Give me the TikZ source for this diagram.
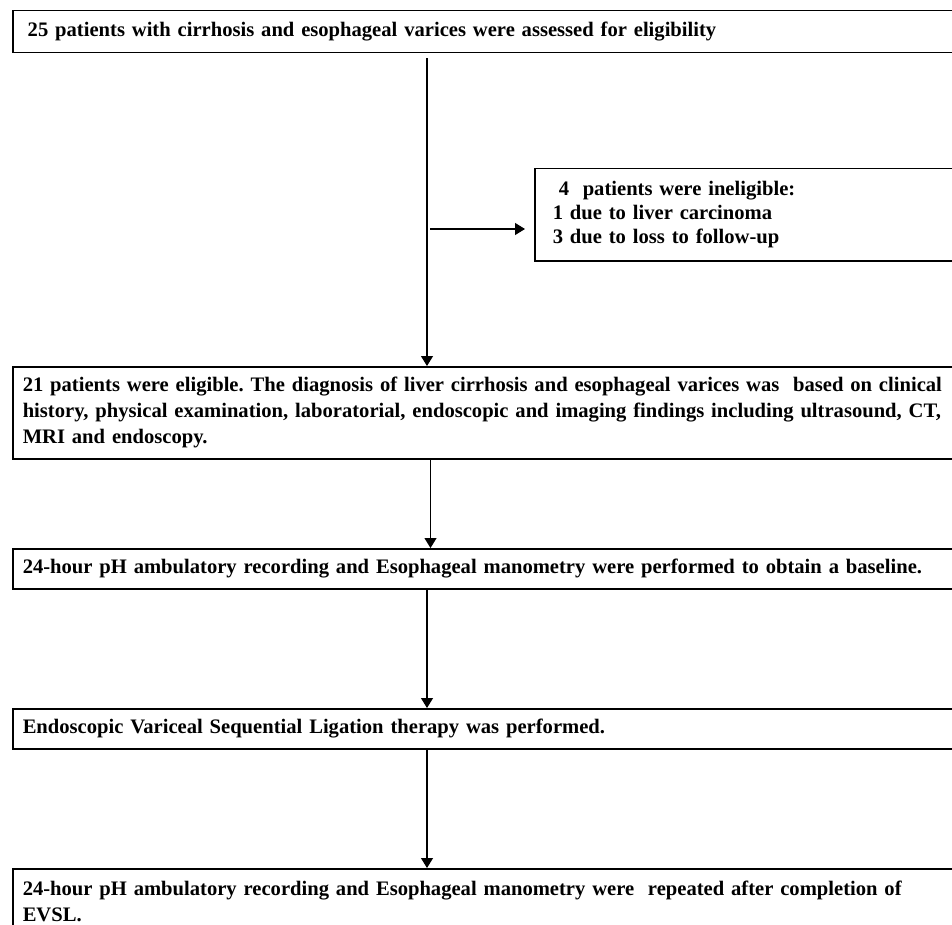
\documentclass[tikz,border=0pt]{standalone}
\usepackage{fontspec}
\setmainfont{Liberation Serif}
\usetikzlibrary{arrows.meta}
\frenchspacing

\begin{document}
\begin{tikzpicture}[x=0.5pt,y=-0.5pt,
   fleche/.style={-{Triangle[length=5pt,width=6pt]},line width=0.6pt},
   etape/.style={draw,rectangle,line width=0.75pt,anchor=north west,align=left,
     text width=480pt,inner xsep=5pt,font=\bfseries\fontsize{10.3}{13}\selectfont}]

  \useasboundingbox (0,0) rectangle (952,925);
  \clip (0,0) rectangle (952,925);

  \node[etape,inner xsep=7.5pt,minimum height=21pt] (inclus) at (12,10)
    {25 patients with cirrhosis and esophageal varices were assessed for eligibility};
  \node[etape,text width=200pt,inner xsep=9pt,minimum height=46pt,
        font=\bfseries\fontsize{10.3}{12}\selectfont] (exclus) at (534,168)
    {\hspace{3pt}4~ patients were ineligible:\\
     1 due to liver carcinoma\\
     3 due to loss to follow-up};
  \node[etape,minimum height=46pt] (eligibles) at (12,366)
    {21 patients were eligible. The diagnosis of liver cirrhosis and esophageal varices was~ based on clinical\\
     history, physical examination, laboratorial, endoscopic and imaging findings including ultrasound, CT,\\
     MRI and endoscopy.};
  \node[etape,minimum height=20pt] (initial) at (12,548)
    {24-hour pH ambulatory recording and Esophageal manometry were performed to obtain a baseline.};
  \node[etape,minimum height=20pt] (ligature) at (12,708)
    {Endoscopic Variceal Sequential Ligation therapy was performed.};
  \node[etape,inner ysep=6pt] (controle) at (12,868)
    {24-hour pH ambulatory recording and Esophageal manometry were~ repeated after completion of\\
     EVSL.};

  \coordinate (axe) at (427,0);
  \coordinate (depart) at (430,229);

  \draw[fleche] ([yshift=-2.5pt]inclus.south -| axe) -- (eligibles.north -| axe);
  \draw[fleche,shorten >=4.5pt] (depart) -- (depart -| exclus.west);
  \draw[fleche] ([xshift=1.75pt]eligibles.south -| axe) -- ([xshift=1.75pt]initial.north -| axe);
  \foreach \from/\to in {initial/ligature,ligature/controle}
    \draw[fleche] (\from.south -| axe) -- (\to.north -| axe);
\end{tikzpicture}
\end{document}
